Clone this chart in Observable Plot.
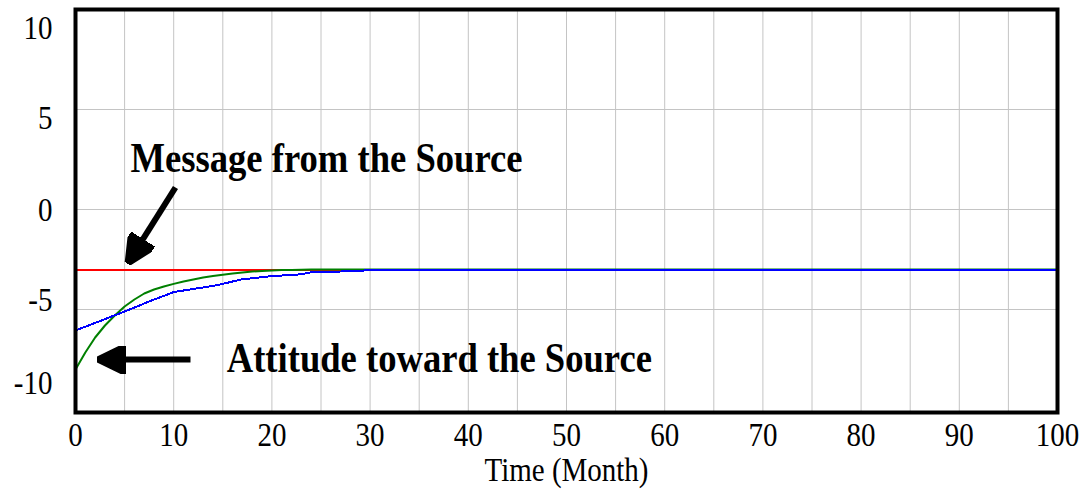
<!DOCTYPE html>
<html>
<head>
<meta charset="utf-8">
<script src="https://cdn.jsdelivr.net/npm/d3@7"></script>
<script src="https://cdn.jsdelivr.net/npm/@observablehq/plot@0.6"></script>
<style>
  html, body { margin: 0; padding: 0; background: #fff; }
  svg { display: block; }
</style>
</head>
<body>
<div id="chart"></div>
<script>
// ---- data ----
const months = [0,1,2,3,4,5,6,7,8,9,10,11,12,13,14,15,16,17,18,19,20,21,22,23,24,25,26,27,28,29,30,100];
const message = months.map(() => -3);
const attitudeGreen = [-8.0,-7.15,-6.4,-5.8,-5.3,-4.85,-4.5,-4.2,-4.0,-3.85,-3.72,-3.6,-3.5,-3.4,-3.32,-3.26,-3.2,-3.15,-3.1,-3.07,-3.05,-3.03,-3.02,-3.01,-3.0,-3.0,-3.0,-3.0,-3.0,-3.0,-3.0,-3.0];
const attitudeBlue = [-6.05,-5.86,-5.67,-5.48,-5.29,-5.1,-4.9,-4.7,-4.5,-4.32,-4.13,-4.05,-3.97,-3.9,-3.82,-3.72,-3.6,-3.48,-3.44,-3.38,-3.33,-3.3,-3.27,-3.24,-3.14,-3.12,-3.11,-3.1,-3.09,-3.08,-3.0,-3.0];

const xTicks = [0,10,20,30,40,50,60,70,80,90,100];
const yTicks = [10,5,0,-5,-10];
const yLabelShift = [19,9,1,-9,-26];
const xGrid = [5,10,15,20,25,30,35,40,45,50,55,60,65,70,75,80,85,90,95];
const yGrid = [5,0,-5];

const annotations = [
  {text: "Message from the Source", x: 5.6, y: 2.55},
  {text: "Attitude toward the Source", x: 15.4, y: -7.45}
];
const arrows = [
  {x1: 10.18, y1: 1.1, x2: 6.82, y2: -1.52},
  {x1: 11.71, y1: -7.5, x2: 5.09, y2: -7.5}
];

const series = (vals) => months.map((m, i) => ({t: m, v: vals[i]}));

function headMarker(color) {
  const ns = "http://www.w3.org/2000/svg";
  const m = document.createElementNS(ns, "marker");
  m.setAttribute("viewBox", "0 -14 29 28");
  m.setAttribute("markerUnits", "userSpaceOnUse");
  m.setAttribute("markerWidth", 29);
  m.setAttribute("markerHeight", 28);
  m.setAttribute("refX", 1);
  m.setAttribute("refY", 0);
  m.setAttribute("orient", "auto");
  const p = document.createElementNS(ns, "path");
  p.setAttribute("d", "M0,-14L29,0L0,14Z");
  p.setAttribute("fill", color);
  m.appendChild(p);
  return m;
}

const font = "Liberation Serif, Times New Roman, serif";
const fmt = (d) => String(d);

const plot = Plot.plot({
  width: 1084,
  height: 494,
  marginTop: 9,
  marginBottom: 82,
  marginLeft: 75,
  marginRight: 27,
  style: {fontFamily: font, fontSize: "29px", color: "#000", background: "#fff"},
  x: {domain: [0, 100]},
  y: {domain: [-10.15, 10]},
  marks: [
    Plot.ruleX(xGrid, {stroke: "#c4c4c4", strokeWidth: 1}),
    Plot.ruleY(yGrid, {stroke: "#c4c4c4", strokeWidth: 1}),
    Plot.axisX(xTicks, {tickSize: 0, tickPadding: 10, label: null, fontSize: 29, tickFormat: fmt}),
    ...yTicks.map((t, i) => Plot.axisY([t], {tickSize: 0, tickPadding: 23, label: null, fontSize: 29, dy: yLabelShift[i], tickFormat: fmt})),
    Plot.text(["Time (Month)"], {frameAnchor: "bottom", dy: 58, fontSize: 29, lineAnchor: "middle"}),
    Plot.line(series(message), {x: "t", y: "v", stroke: "#ff0000", strokeWidth: 2, shapeRendering: "crispEdges"}),
    Plot.line(series(attitudeGreen), {x: "t", y: "v", stroke: "#008000", strokeWidth: 2}),
    Plot.line(series(attitudeBlue), {x: "t", y: "v", stroke: "#0000ff", strokeWidth: 2, shapeRendering: "crispEdges"}),
    Plot.link(arrows, {x1: "x1", y1: "y1", x2: "x2", y2: "y2", stroke: "#000", strokeWidth: 6, markerEnd: headMarker}),
    Plot.text(annotations, {x: "x", y: "y", text: "text", textAnchor: "start", fontWeight: "bold", fontSize: 36.6, lineAnchor: "middle"}),
    Plot.frame({stroke: "#000", strokeWidth: 4})
  ]
});
// the reference's lettering is slightly taller than wide: stretch each label vertically about its anchor
plot.querySelectorAll("text").forEach((t) => {
  const tr = t.getAttribute("transform");
  if (tr) t.setAttribute("transform", tr + " scale(1,1.13)");
});
document.getElementById("chart").appendChild(plot);
</script>
</body>
</html>
